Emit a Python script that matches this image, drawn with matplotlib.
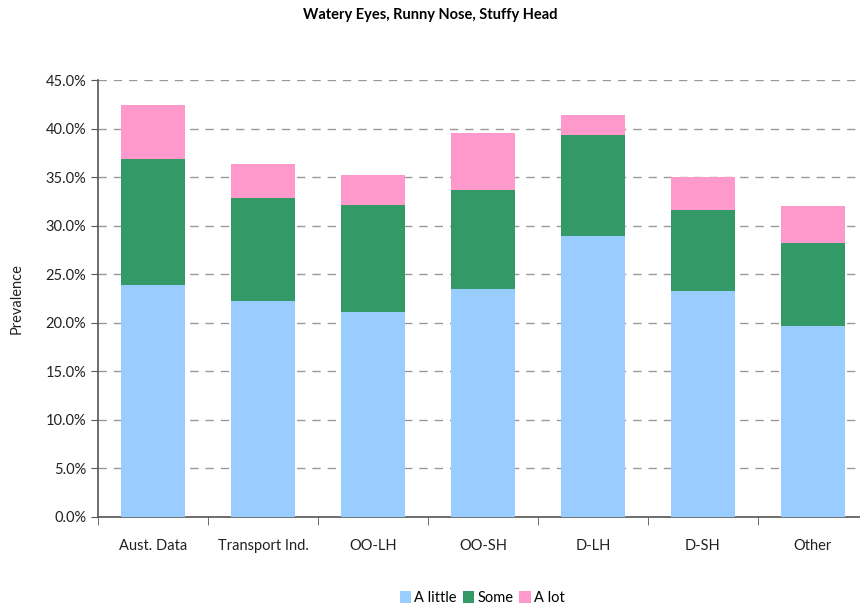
import numpy as np
import matplotlib
matplotlib.use("Agg")
import matplotlib.pyplot as plt
from matplotlib.ticker import PercentFormatter

plt.rcParams['font.family'] = ['Lato', 'DejaVu Sans']

categories = ['Aust. Data', 'Transport Ind.', 'OO-LH', 'OO-SH', 'D-LH', 'D-SH', 'Other']
a_little = [23.9, 22.2, 21.1, 23.5, 28.9, 23.3, 19.7]
some     = [13.0, 10.7, 11.0, 10.2, 10.4,  8.3,  8.5]
a_lot    = [ 5.5,  3.5,  3.1,  5.8,  2.1,  3.4,  3.8]

colors = ['#99CCFF', '#339966', '#FF99CC']

fig = plt.figure(figsize=(8.6, 6.07), dpi=100)
ax = fig.add_axes([98/860, 90/607, 770/860, 437/607])

x = np.arange(len(categories))
w = 0.59
b1 = np.array(a_little)
b2 = b1 + np.array(some)
ax.bar(x, a_little, w, color=colors[0], label='A little', zorder=3)
ax.bar(x, some, w, bottom=b1, color=colors[1], label='Some', zorder=3)
ax.bar(x, a_lot, w, bottom=b2, color=colors[2], label='A lot', zorder=3)

ax.set_xlim(-0.5, len(categories) - 0.5)
ax.set_ylim(0, 45)
ax.set_yticks(np.arange(0, 46, 5))
ax.yaxis.set_major_formatter(PercentFormatter(decimals=1))
ax.grid(axis='y', color='#999999', ls=(0, (6, 5)), lw=1, zorder=0)

ax.set_xticks(x)
ax.set_xticklabels(categories)
ax.set_xticks(np.arange(-0.5, len(categories)), minor=True)
ax.tick_params(axis='x', which='major', length=0, pad=16, labelsize=10.5, colors='#222222')
ax.tick_params(axis='x', which='minor', length=6, color='#555555')
ax.tick_params(axis='y', length=5, color='#555555', labelsize=10.5, labelcolor='#222222')

for s in ['top', 'right']:
    ax.spines[s].set_visible(False)
for s in ['left', 'bottom']:
    ax.spines[s].set_color('#555555')
    ax.spines[s].set_linewidth(1.2)

ax.set_ylabel('Prevalence', fontsize=10.5, labelpad=16, color='#222222')
fig.text(430/860, 1 - 15/607, 'Watery Eyes, Runny Nose, Stuffy Head',
         ha='center', va='center', fontsize=10.5, fontweight='bold')

fig.legend(loc='center', bbox_to_anchor=(482/860, 1 - 598/607), ncol=3,
           frameon=False, fontsize=10.5, handlelength=0.8, handleheight=0.8,
           handletextpad=0.2, columnspacing=0.4)

fig.savefig('out.png', dpi=100)
